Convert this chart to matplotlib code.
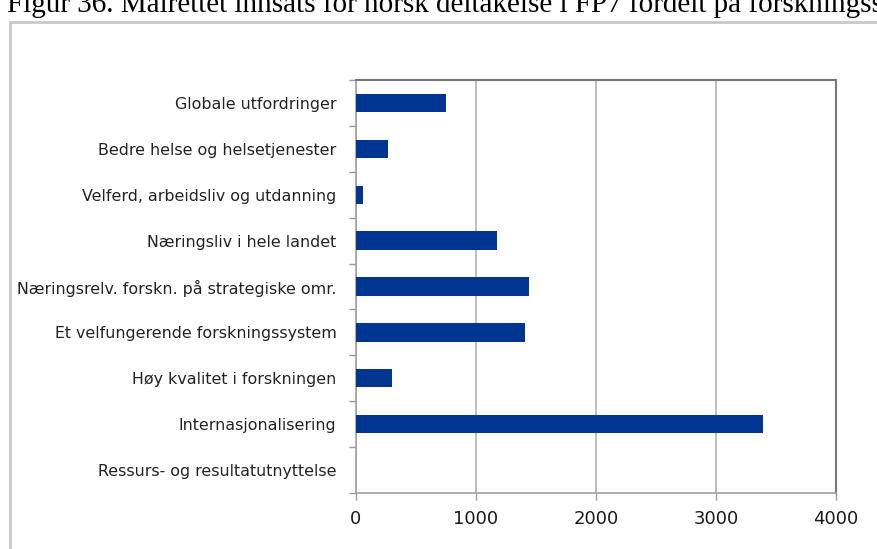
import matplotlib
matplotlib.use("Agg")
import matplotlib.pyplot as plt
from matplotlib.patches import Rectangle
import numpy as np

categories = [
    "Globale utfordringer",
    "Bedre helse og helsetjenester",
    "Velferd, arbeidsliv og utdanning",
    "Næringsliv i hele landet",
    "Næringsrelv. forskn. på strategiske omr.",
    "Et velfungerende forskningssystem",
    "Høy kvalitet i forskningen",
    "Internasjonalisering",
    "Ressurs- og resultatutnyttelse",
]
values = [750, 267, 58, 1175, 1442, 1408, 300, 3392, 0]
xticks = [0, 1000, 2000, 3000, 4000]
title = "Figur 36. Målrettet innsats for norsk deltakelse i FP7 fordelt på forskningsstrategiske mål"

W, H = 878, 549
fig = plt.figure(figsize=(W / 100, H / 100), dpi=100)

# title (cut off at top and right, as in the reference)
fig.text(7 / W, 1 - 12 / H, title, family="Liberation Serif", fontsize=21,
         ha="left", va="baseline", color="black")

# outer frame
fig.patches.append(Rectangle((10 / W, -0.05), 1.0, 1 - 22 / H + 0.05,
                             transform=fig.transFigure, fill=False,
                             edgecolor="#c8c8c8", lw=2.0))

ax = fig.add_axes([356 / W, 1 - 493 / H, (836 - 356) / W, (493 - 80) / H])
n = len(categories)
pos = np.arange(n)
ax.barh(pos, values, height=0.4, color="#003591", lw=0, zorder=3)
ax.set_ylim(n - 0.5, -0.5)
ax.set_xlim(0, 4000)

ax.set_xticks(xticks)
ax.set_xticklabels([str(t) for t in xticks], fontsize=13, family="DejaVu Sans", color="#1a1a1a")
ax.set_yticks(pos)
ax.set_yticklabels(categories, fontsize=11.4, family="DejaVu Sans", color="#222222")
ax.set_yticks(np.arange(-0.5, n, 1.0), minor=True)
ax.tick_params(axis="y", which="major", length=0, pad=14)
ax.tick_params(axis="y", which="minor", length=5, color="#999999", width=1)
ax.tick_params(axis="x", which="major", length=5, color="#999999", width=1, pad=7)

ax.grid(axis="x", color="#b3b3b3", lw=1.2, zorder=0)
for s in ["left", "bottom"]:
    ax.spines[s].set_color("#a0a0a0")
    ax.spines[s].set_linewidth(1.2)
for s in ["top", "right"]:
    ax.spines[s].set_color("#777777")
    ax.spines[s].set_linewidth(1.5)

fig.savefig("out.png", dpi=100)
